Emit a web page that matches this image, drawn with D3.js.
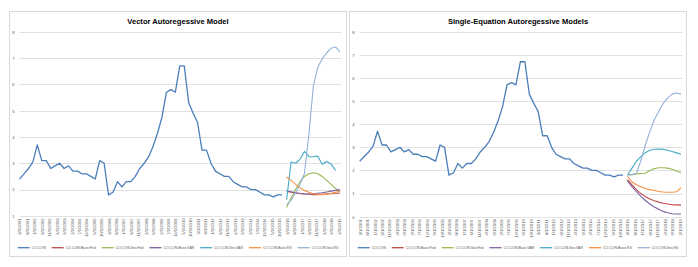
<!DOCTYPE html>
<html>
<head>
  <meta charset="utf-8">
  <title>CO.CON forecasts</title>
  <style>
    body { margin: 0; background: #fff; }
    svg text { font-family: "Liberation Sans", Arial, sans-serif; fill: #595959; }
    .title { font-weight: bold; fill: #000; }
    .grid-line { stroke: #d9d9d9; stroke-width: 0.8; }
    .frame { fill: #fff; stroke: #d9d9d9; stroke-width: 1; }
  </style>
</head>
<body>
  <svg id="chart" width="698" height="267"></svg>

  <script src="https://cdn.jsdelivr.net/npm/d3@7/dist/d3.min.js"></script>
  <script>
    // quarterly history, 3/1/2001 .. 12/1/2015
    const coCon = [2.4, 2.6, 2.8, 3.05, 3.7, 3.1, 3.1, 2.8, 2.9, 3.0, 2.8, 2.9, 2.7, 2.7, 2.6, 2.6, 2.5, 2.4, 3.1, 3.0,
      1.8, 1.9, 2.3, 2.1, 2.3, 2.3, 2.5, 2.8, 3.0, 3.25, 3.65, 4.15, 4.75, 5.7, 5.8, 5.7, 6.7, 6.7, 5.3, 4.9,
      4.55, 3.5, 3.5, 3.0, 2.7, 2.6, 2.5, 2.5, 2.3, 2.2, 2.1, 2.1, 2.0, 2.0, 1.9, 1.8, 1.8, 1.72, 1.8, 1.8];

    // forecasts, 3/1/2016 .. 3/1/2019 -- Vector Autoregressive panel
    const varBaseFed = [1.93, 1.9, 1.87, 1.85, 1.83, 1.82, 1.81, 1.81, 1.82, 1.83, 1.84, 1.85, 1.87];
    const varSevFed = [1.32, 1.68, 2.0, 2.3, 2.5, 2.6, 2.64, 2.6, 2.5, 2.35, 2.2, 2.04, 1.9];
    const varBaseVar = [1.95, 1.92, 1.88, 1.85, 1.83, 1.83, 1.84, 1.86, 1.88, 1.91, 1.94, 1.97, 2.0];
    const varSevVar = [1.62, 3.05, 3.0, 3.15, 3.45, 3.25, 3.25, 3.27, 2.96, 3.07, 2.97, 2.73, null];
    const varBaseRs = [2.48, 2.35, 2.2, 2.07, 1.97, 1.9, 1.84, 1.81, 1.81, 1.83, 1.86, 1.9, 1.94];
    const varSevRs = [1.43, 1.6, 1.87, 2.2, 2.6, 4.1, 5.95, 6.65, 6.97, 7.2, 7.37, 7.42, 7.22];

    // forecasts -- Single-Equation panel
    const seBaseFed = [1.6, 1.38, 1.17, 1.0, 0.87, 0.77, 0.69, 0.63, 0.58, 0.55, 0.52, 0.51, 0.5];
    const seSevFed = [1.8, 1.82, 1.85, 1.87, 1.88, 2.0, 2.08, 2.12, 2.12, 2.1, 2.05, 1.98, 1.9];
    const seBaseVar = [1.55, 1.3, 1.08, 0.88, 0.7, 0.55, 0.42, 0.32, 0.23, 0.17, 0.13, 0.12, 0.12];
    const seSevVar = [1.8, 2.1, 2.4, 2.6, 2.77, 2.87, 2.92, 2.93, 2.91, 2.87, 2.82, 2.76, 2.7];
    const seBaseRs = [1.75, 1.5, 1.38, 1.3, 1.22, 1.17, 1.13, 1.09, 1.07, 1.06, 1.06, 1.08, 1.25];
    const seSevRs = [1.8, 1.82, 1.88, 2.43, 3.1, 3.68, 4.19, 4.55, 4.9, 5.13, 5.3, 5.35, 5.3];

    const seriesNames = ['CO.CON', 'CO.CON.Base.Fed', 'CO.CON.Sev.Fed', 'CO.CON.Base.VAR',
      'CO.CON.Sev.VAR', 'CO.CON.Base.RS', 'CO.CON.Sev.RS'];
    const seriesColors = ['#4a7ebb', '#be4b48', '#98b954', '#7d60a0', '#46aac5', '#f69240', '#95b3d7'];

    const xTickLabels = ['3/1/2001', '8/1/2001', '1/1/2002', '6/1/2002', '11/1/2002', '4/1/2003', '9/1/2003',
      '2/1/2004', '7/1/2004', '12/1/2004', '5/1/2005', '10/1/2005', '3/1/2006', '8/1/2006', '1/1/2007',
      '6/1/2007', '11/1/2007', '4/1/2008', '9/1/2008', '2/1/2009', '7/1/2009', '12/1/2009', '5/1/2010',
      '10/1/2010', '3/1/2011', '8/1/2011', '1/1/2012', '6/1/2012', '11/1/2012', '4/1/2013', '9/1/2013',
      '2/1/2014', '7/1/2014', '12/1/2014', '5/1/2015', '10/1/2015', '3/1/2016', '8/1/2016', '1/1/2017',
      '6/1/2017', '11/1/2017', '4/1/2018', '9/1/2018', '2/1/2019'];

    const parseDate = d3.timeParse('%m/%d/%Y');
    const quarters = d3.timeMonth.range(parseDate('03/01/2001'), parseDate('04/01/2019'), 3);
    const histDates = quarters.slice(0, coCon.length);
    const fcDates = quarters.slice(coCon.length);

    const svg = d3.select('#chart');

    function drawPanel(p) {
      const g = svg.append('g');

      g.append('rect').attr('class', 'frame')
        .attr('x', p.box[0]).attr('y', p.box[1]).attr('width', p.box[2]).attr('height', p.box[3]);

      g.append('text').attr('class', 'title')
        .attr('x', p.box[0] + p.box[2] / 2).attr('y', 24)
        .attr('text-anchor', 'middle').style('font-size', '7.6px')
        .text(p.title);

      const x = d3.scaleTime()
        .domain([quarters[0], quarters[quarters.length - 1]])
        .range(p.xRange);
      const y = d3.scaleLinear().domain(p.yDomain).range(p.yRange);

      // grid
      g.selectAll('.grid-line')
        .data(y.ticks(p.yDomain[1] - p.yDomain[0]))
        .enter().append('line')
        .attr('class', 'grid-line')
        .attr('x1', p.xRange[0]).attr('x2', p.xRange[1] + 1.5)
        .attr('y1', d => Math.round(y(d)) + 0.5).attr('y2', d => Math.round(y(d)) + 0.5);

      // y axis labels
      const yAxis = g.append('g')
        .attr('transform', `translate(${p.xRange[0] - 5},0)`)
        .call(d3.axisLeft(y).ticks(p.yDomain[1] - p.yDomain[0]).tickSize(0).tickPadding(0));
      yAxis.select('.domain').remove();
      yAxis.selectAll('text').style('font-size', '4.2px').attr('fill', '#595959').style('font-family', null);

      // x axis labels, rotated
      const xAxis = g.append('g')
        .attr('transform', `translate(0,${p.yRange[0] + 2.5})`)
        .call(d3.axisBottom(x)
          .tickValues(xTickLabels.map(s => parseDate(s.replace(/^(\d+)\/(\d+)\//, (m, a, b) => a.padStart(2, '0') + '/0' + b + '/'))))
          .tickFormat((d, i) => xTickLabels[i])
          .tickSize(0).tickPadding(0));
      xAxis.select('.domain').remove();
      xAxis.selectAll('text')
        .style('font-size', '4.2px').attr('fill', '#595959').style('font-family', null)
        .attr('text-anchor', 'end')
        .attr('dy', '0.35em').attr('y', 0).attr('x', 0)
        .attr('transform', 'rotate(-90)');

      const line = d3.line()
        .defined(d => d[1] != null)
        .x(d => x(d[0])).y(d => y(d[1]));

      const series = [d3.zip(histDates, coCon)].concat(p.forecasts.map(f => d3.zip(fcDates, f)));

      // draw forecasts first, history on top of its own region
      series.forEach((s, i) => {
        g.append('path')
          .attr('d', line(s))
          .attr('fill', 'none')
          .attr('stroke', seriesColors[i])
          .attr('stroke-width', i === 0 ? 1.3 : 1.1)
          .attr('stroke-linejoin', 'round');
      });

      // legend
      const legend = g.append('g');
      let cx = 0;
      seriesNames.forEach((name, i) => {
        const item = legend.append('g').attr('transform', `translate(${cx},0)`);
        item.append('line')
          .attr('x1', 0).attr('x2', 12).attr('y1', 0).attr('y2', 0)
          .attr('stroke', seriesColors[i]).attr('stroke-width', 1.3);
        const t = item.append('text')
          .attr('x', 14).attr('y', 0).attr('dy', '0.35em')
          .style('font-size', '3.5px')
          .text(name);
        cx += 14 + t.node().getComputedTextLength() + 6;
      });
      cx -= 6;
      legend.attr('transform', `translate(${p.box[0] + p.box[2] / 2 - cx / 2},${p.legendY})`);
    }

    drawPanel({
      title: 'Vector Autoregessive Model',
      box: [9.5, 11.5, 337, 245],
      xRange: [19.5, 340],
      yDomain: [1, 8],
      yRange: [215.9, 31.7],
      legendY: 247.7,
      forecasts: [varBaseFed, varSevFed, varBaseVar, varSevVar, varBaseRs, varSevRs]
    });

    drawPanel({
      title: 'Single-Equation Autoregessive Models',
      box: [349.5, 11.5, 337, 245],
      xRange: [359.7, 681],
      yDomain: [0, 8],
      yRange: [216.7, 31.7],
      legendY: 247.7,
      forecasts: [seBaseFed, seSevFed, seBaseVar, seSevVar, seBaseRs, seSevRs]
    });
  </script>
</body>
</html>
